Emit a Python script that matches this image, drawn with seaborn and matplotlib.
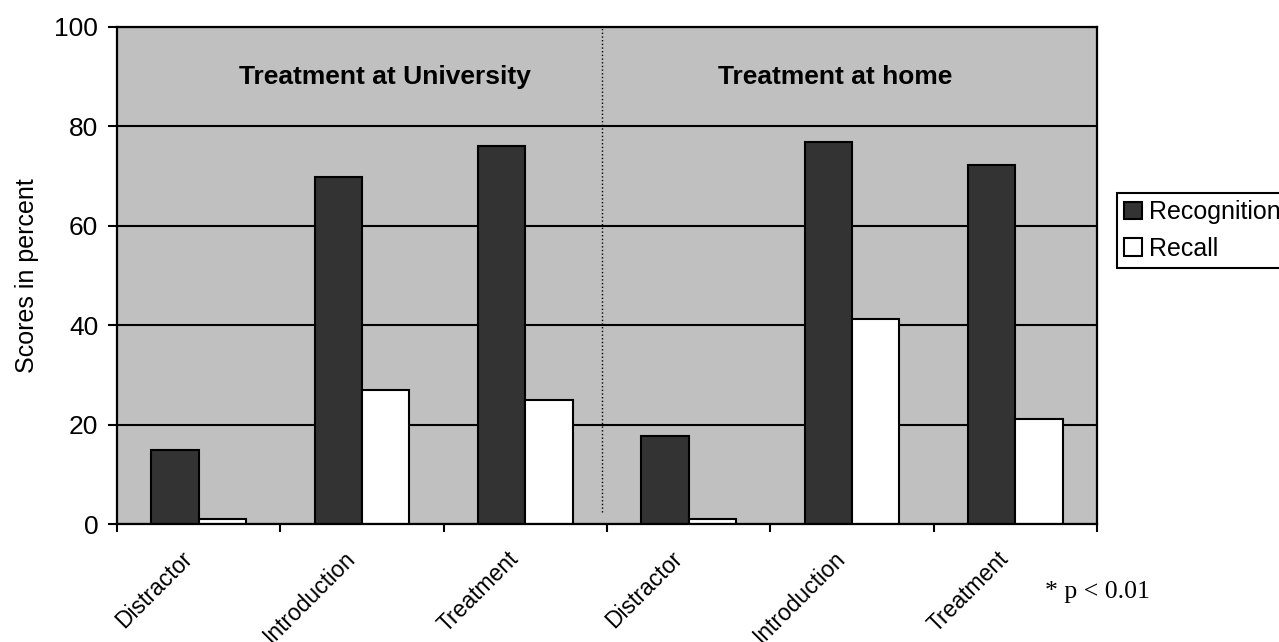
import pandas as pd
import matplotlib
matplotlib.use('Agg')
import matplotlib.pyplot as plt
import matplotlib.transforms as mtransforms
import seaborn as sns

# Werte
conditions = ['Distractor', 'Introduction', 'Treatment']
groups = ['Treatment at University', 'Treatment at home']
uni_recognition = [14.9, 69.9, 76.1]
uni_recall = [1.0, 27.0, 24.9]
home_recognition = [17.8, 76.9, 72.3]
home_recall = [1.0, 41.2, 21.1]
y_ticks = [0, 20, 40, 60, 80, 100]

# Tabelle im Long-Format fuer seaborn
rows = []
for g, rec, cal in [(groups[0], uni_recognition, uni_recall),
                    (groups[1], home_recognition, home_recall)]:
    for c, v1, v2 in zip(conditions, rec, cal):
        rows.append({'slot': f'{g} | {c}', 'label': c, 'measure': 'Recognition', 'score': v1})
        rows.append({'slot': f'{g} | {c}', 'label': c, 'measure': 'Recall', 'score': v2})
df = pd.DataFrame(rows)
order = list(dict.fromkeys(df['slot']))

sns.set_style('white')
plt.rcParams['font.family'] = ['Liberation Sans', 'DejaVu Sans']
plt.rcParams.update({'text.color': 'black', 'axes.labelcolor': 'black',
                     'xtick.color': 'black', 'ytick.color': 'black'})

fig = plt.figure(figsize=(12.79, 6.42), dpi=100)
ax = fig.add_axes([117 / 1279, 1 - 524 / 642, 980 / 1279, 497 / 642])
ax.set_facecolor('#c0c0c0')

sns.barplot(data=df, x='slot', y='score', hue='measure', order=order,
            hue_order=['Recognition', 'Recall'],
            palette={'Recognition': '#333333', 'Recall': '#ffffff'},
            width=0.58, gap=0, edgecolor='black', linewidth=1.5,
            saturation=1, errorbar=None, ax=ax)

ax.set_xlim(-0.5, len(order) - 0.5)
ax.set_ylim(0, 100)
ax.set_yticks(y_ticks)
ax.yaxis.grid(True, color='black', linewidth=1.5)
ax.set_axisbelow(True)
for s in ax.spines.values():
    s.set_visible(True)
    s.set_color('black')
    s.set_linewidth(1.6)

# Gruppentrenner und Gruppentitel
ax.vlines(2.47, 2.4, 100, colors='black', linestyles=':', linewidth=1)
ax.text(1.14, 90, groups[0], ha='center', va='center', fontsize=19, fontweight='bold')
ax.text(3.9, 90, groups[1], ha='center', va='center', fontsize=19, fontweight='bold')

# Achsen
ax.set_xlabel('')
ax.set_ylabel('Scores in percent', fontsize=18, labelpad=11)
ax.tick_params(axis='y', direction='out', length=6.5, width=1.5, pad=7, labelsize=19, left=True)
ax.set_xticks(range(len(order)))
ax.set_xticklabels(df.drop_duplicates('slot')['label'], rotation=45, ha='right',
                   rotation_mode='anchor', fontsize=16.5)
ax.tick_params(axis='x', which='major', length=0, pad=16.5, bottom=True)
ax.set_xticks([i - 0.5 for i in range(len(order) + 1)], minor=True)
ax.tick_params(axis='x', which='minor', direction='out', length=6, width=1.5, bottom=True)
shift = mtransforms.ScaledTranslation(-18 / 100, 0, fig.dpi_scale_trans)
for lab in ax.get_xticklabels():
    lab.set_transform(lab.get_transform() + shift)

leg = ax.legend(loc='upper left', bbox_to_anchor=(1.02, 0.666), frameon=True,
                fancybox=False, framealpha=1, edgecolor='black', fontsize=18,
                handlelength=0.7, handleheight=0.7, handletextpad=0.3,
                borderpad=0.3, labelspacing=0.5, borderaxespad=0)
leg.get_frame().set_linewidth(1.5)

fig.text(1045 / 1279, 1 - 592 / 642, '* p < 0.01', ha='left', va='center',
         fontsize=18.5, family=['Liberation Serif', 'DejaVu Serif'])

fig.savefig('out.png', dpi=100)
plt.close(fig)
